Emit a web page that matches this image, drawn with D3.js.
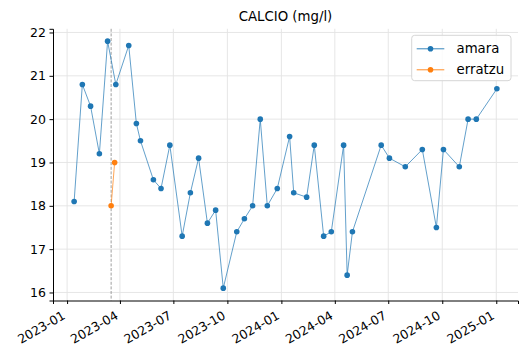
<!DOCTYPE html>
<html>
<head>
<meta charset="utf-8">
<script src="https://cdn.jsdelivr.net/npm/d3@7"></script>
<style>
  body { margin: 0; background: #fff; }
  text { font-family: "DejaVu Sans", sans-serif; fill: #000; }
</style>
</head>
<body>
<div id="chart"></div>
<script>
var width = 527, height = 361;
var margin = {top: 28.8, right: 9, bottom: 60.5, left: 53};

// amara samples
var amaraDates = ["2023-01-13","2023-01-27","2023-02-10","2023-02-25","2023-03-11","2023-03-25",
  "2023-04-16","2023-04-29","2023-05-06","2023-05-28","2023-06-10","2023-06-25","2023-07-16",
  "2023-07-30","2023-08-13","2023-08-28","2023-09-11","2023-09-24","2023-10-17","2023-10-30",
  "2023-11-13","2023-11-26","2023-12-08","2023-12-25","2024-01-15","2024-01-22","2024-02-13",
  "2024-02-26","2024-03-13","2024-03-26","2024-04-16","2024-04-22","2024-05-01","2024-06-19",
  "2024-07-03","2024-07-30","2024-08-28","2024-09-21","2024-10-03","2024-10-30","2024-11-14",
  "2024-11-28","2025-01-02"];
var amaraValues = [18.1,20.8,20.3,19.2,21.8,20.8,21.7,19.9,19.5,18.6,18.4,19.4,17.3,18.3,19.1,
  17.6,17.9,16.1,17.4,17.7,18.0,20.0,18.0,18.4,19.6,18.3,18.2,19.4,17.3,17.4,19.4,16.4,17.4,
  19.4,19.1,18.9,19.3,17.5,19.3,18.9,20.0,20.0,20.7];

// erratzu samples
var erratzuDates = ["2023-03-17","2023-03-23"];
var erratzuValues = [18.0, 19.0];

var markerDate = "2023-03-17";
var xTickDates = ["2023-01-01","2023-04-01","2023-07-01","2023-10-01","2024-01-01",
  "2024-04-01","2024-07-01","2024-10-01","2025-01-01"];
var yTicks = [16,17,18,19,20,21,22];

var series = [
  {name: "amara", color: "#1f77b4", dates: amaraDates, values: amaraValues},
  {name: "erratzu", color: "#ff7f0e", dates: erratzuDates, values: erratzuValues}
];

var parse = d3.utcParse("%Y-%m-%d");
series.forEach(function(s){
  s.points = s.dates.map(function(d,i){ return {date: parse(d), value: s.values[i]}; });
});

var all = series.reduce(function(a,s){ return a.concat(s.points); }, []);
var xExt = d3.extent(all, function(d){ return +d.date; });
var yExt = d3.extent(all, function(d){ return d.value; });
var xPad = (xExt[1]-xExt[0])*0.05, yPad = (yExt[1]-yExt[0])*0.05;

var x = d3.scaleUtc().domain([new Date(xExt[0]-xPad), new Date(xExt[1]+xPad)])
    .range([margin.left, width - margin.right]);
var y = d3.scaleLinear().domain([yExt[0]-yPad, yExt[1]+yPad])
    .range([height - margin.bottom, margin.top]);

var svg = d3.select("#chart").append("svg")
    .attr("width", width).attr("height", height);

var xt = xTickDates.map(parse);

// grid
svg.append("g").selectAll("line").data(xt).join("line")
    .attr("x1", function(d){ return x(d); }).attr("x2", function(d){ return x(d); })
    .attr("y1", margin.top).attr("y2", height - margin.bottom)
    .attr("stroke", "#e3e3e3").attr("stroke-width", 0.9);
svg.append("g").selectAll("line").data(yTicks).join("line")
    .attr("x1", margin.left).attr("x2", width - margin.right)
    .attr("y1", function(d){ return y(d); }).attr("y2", function(d){ return y(d); })
    .attr("stroke", "#e3e3e3").attr("stroke-width", 0.9);

// dashed marker line
svg.append("line")
    .attr("x1", x(parse(markerDate))).attr("x2", x(parse(markerDate)))
    .attr("y1", margin.top).attr("y2", height - margin.bottom)
    .attr("stroke", "#888").attr("stroke-width", 0.8).attr("stroke-dasharray", "3,1.6");

// axes
var xAxis = svg.append("g")
    .attr("transform", "translate(0," + (height - margin.bottom) + ")")
    .call(d3.axisBottom(x).tickValues(xt).tickFormat(d3.utcFormat("%Y-%m")).tickSizeOuter(0).tickSize(3.5));
xAxis.select(".domain").attr("stroke", "#000").attr("stroke-width", 1);
xAxis.selectAll(".tick line").attr("stroke", "#000");
xAxis.selectAll(".tick text")
    .attr("font-size", 12.5).attr("font-family", "DejaVu Sans")
    .attr("text-anchor", "end")
    .attr("dy", null).attr("y", null)
    .attr("transform", "translate(-1.4,17.5) rotate(-30)");

var yAxis = svg.append("g")
    .attr("transform", "translate(" + margin.left + ",0)")
    .call(d3.axisLeft(y).tickValues(yTicks).tickFormat(d3.format("d"))
      .tickSizeOuter(0).tickSize(3.5).tickPadding(3.5));
yAxis.select(".domain").attr("stroke", "#000").attr("stroke-width", 1);
yAxis.selectAll(".tick line").attr("stroke", "#000");
yAxis.selectAll(".tick text").attr("font-size", 12.5).attr("font-family", "DejaVu Sans");

// lines + markers
var line = d3.line().x(function(d){ return x(d.date); }).y(function(d){ return y(d.value); });
series.forEach(function(s){
  svg.append("path").datum(s.points)
      .attr("fill", "none").attr("stroke", s.color).attr("stroke-width", 0.7)
      .attr("d", line);
  svg.append("g").selectAll("circle").data(s.points).join("circle")
      .attr("cx", function(d){ return x(d.date); })
      .attr("cy", function(d){ return y(d.value); })
      .attr("r", 2.8).attr("fill", s.color);
});

// title
svg.append("text")
    .attr("x", (margin.left + width - margin.right)/2).attr("y", 20.5)
    .attr("text-anchor", "middle").attr("font-size", 13.3)
    .text("CALCIO (mg/l)");

// legend
var lg = svg.append("g").attr("transform", "translate(411.7,35.3)");
lg.append("rect").attr("width", 99.3).attr("height", 45.4).attr("rx", 3)
    .attr("fill", "#fff").attr("fill-opacity", 0.85)
    .attr("stroke", "#d6d6d6").attr("stroke-width", 1);
series.forEach(function(s, i){
  var yy = 13.5 + i*21;
  lg.append("line").attr("x1", 5).attr("x2", 32.6).attr("y1", yy).attr("y2", yy)
      .attr("stroke", s.color).attr("stroke-width", 0.9);
  lg.append("circle").attr("cx", 18.8).attr("cy", yy).attr("r", 2.8).attr("fill", s.color);
  lg.append("text").attr("x", 44.8).attr("y", yy).attr("dy", "0.35em")
      .attr("font-size", 13.3).text(s.name);
});
</script>
</body>
</html>
